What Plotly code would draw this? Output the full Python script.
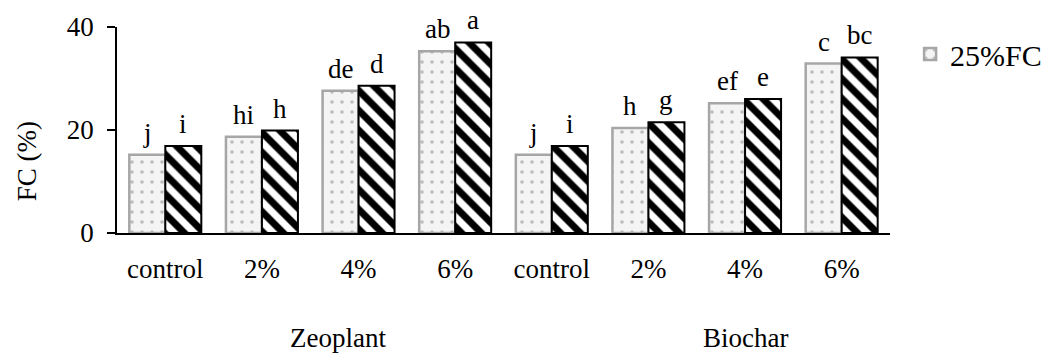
import plotly.graph_objects as go

categories = ["control", "2%", "4%", "6%", "control", "2%", "4%", "6%"]
groups = ["Zeoplant", "Biochar"]
series1_name = "25%FC"
series1 = [15.2, 18.7, 27.6, 35.3, 15.2, 20.4, 25.2, 32.9]
series2 = [16.9, 19.9, 28.6, 37.0, 16.9, 21.5, 26.0, 34.1]
letters1 = ["j", "hi", "de", "ab", "j", "h", "ef", "c"]
letters2 = ["i", "h", "d", "a", "i", "g", "e", "bc"]

FONT = "Times New Roman, Liberation Serif, DejaVu Serif, serif"
xpos = list(range(len(categories)))

fig = go.Figure()
fig.add_trace(go.Bar(
    x=xpos, y=series1, name=series1_name,
    marker=dict(color="#f4f4f4",
                line=dict(color="#a6a6a6", width=2.5),
                pattern=dict(shape=".", fgcolor="#bcbcbc", bgcolor="#f4f4f4",
                             fgopacity=1, size=10, solidity=0.1)),
))
fig.add_trace(go.Bar(
    x=xpos, y=series2, name="", showlegend=False,
    marker=dict(color="white",
                line=dict(color="black", width=2),
                pattern=dict(shape="\\", fgcolor="black", bgcolor="white",
                             fgopacity=1, size=14, solidity=0.5)),
))

# letter labels above bars
for i, (v, t) in enumerate(zip(series1, letters1)):
    fig.add_annotation(x=xpos[i], y=v, text=t, xshift=-18, yshift=22,
                       xanchor="center", yanchor="middle", showarrow=False,
                       font=dict(family=FONT, size=27, color="black"))
for i, (v, t) in enumerate(zip(series2, letters2)):
    fig.add_annotation(x=xpos[i], y=v, text=t, xshift=18, yshift=22,
                       xanchor="center", yanchor="middle", showarrow=False,
                       font=dict(family=FONT, size=27, color="black"))

fig.update_layout(
    width=1050, height=353,
    margin=dict(l=117, r=160, t=27, b=120, autoexpand=False),
    paper_bgcolor="white", plot_bgcolor="white",
    barmode="group", bargap=0.255, bargroupgap=0,
    font=dict(family=FONT, size=27, color="black"),
    legend=dict(x=1.026, y=0.995, xanchor="left", yanchor="top",
                font=dict(family=FONT, size=30, color="black"),
                bgcolor="rgba(0,0,0,0)", itemwidth=30),
    showlegend=True,
)
fig.update_xaxes(
    range=[-0.5, 7.5], tickvals=xpos, ticktext=categories,
    showline=True, linecolor="black", linewidth=1.5,
    ticks="", showgrid=False, zeroline=False, automargin=False,
    ticklabelstandoff=11,
    tickfont=dict(family=FONT, size=27, color="black"),
)
fig.update_yaxes(
    range=[0, 40], dtick=20, showline=True, linecolor="black", linewidth=1.5,
    ticks="outside", ticklen=8, tickcolor="black", tickwidth=1.5,
    showgrid=False, zeroline=False, automargin=False,
    ticklabelstandoff=8,
    tickfont=dict(family=FONT, size=27, color="black"),
)

fig.add_annotation(x=1.79, y=-0.51, xref="x", yref="paper", text=groups[0],
                   xanchor="center", yanchor="middle",
                   showarrow=False, font=dict(family=FONT, size=27, color="black"))
fig.add_annotation(x=6.0, y=-0.51, xref="x", yref="paper", text=groups[1],
                   xanchor="center", yanchor="middle",
                   showarrow=False, font=dict(family=FONT, size=27, color="black"))
fig.add_annotation(x=-0.116, y=0.35, xref="paper", yref="paper", text="FC (%)",
                   xanchor="center", yanchor="middle",
                   textangle=-90, showarrow=False,
                   font=dict(family=FONT, size=27, color="black"))

fig.write_html("out.html", config={"displayModeBar": False},
               post_script="document.body.style.margin='0';document.body.style.overflow='hidden';")
